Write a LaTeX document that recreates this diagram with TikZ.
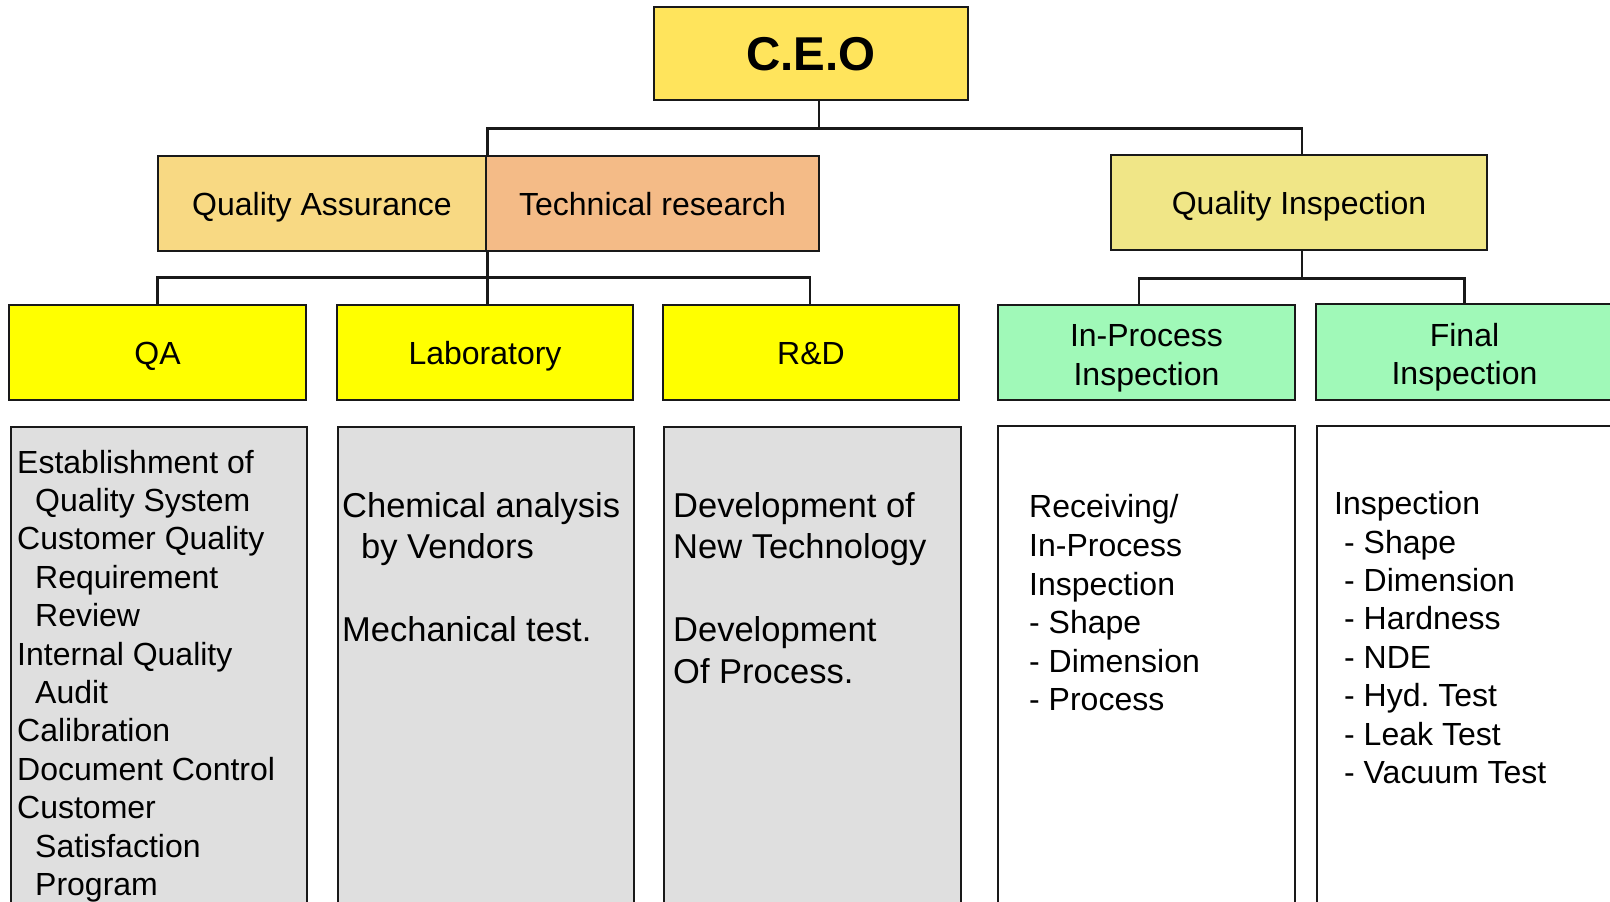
\documentclass[tikz,border=0pt]{standalone}
\usepackage{fontspec}
\setmainfont{Liberation Sans}
\frenchspacing
\definecolor{ceoY}{HTML}{FFE45C}
\definecolor{qaO}{HTML}{F8D983}
\definecolor{trO}{HTML}{F4BB87}
\definecolor{qiY}{HTML}{F0E687}
\definecolor{yel}{HTML}{FFFF00}
\definecolor{grn}{HTML}{A0F9B8}
\definecolor{gry}{HTML}{DFDFDF}
\newcommand\ind{\hspace*{18pt}}
\tikzset{
  box/.style={draw=black!90, line width=2.4pt, inner sep=0pt, minimum height=95pt,
    font=\fontsize{32}{38.4}\selectfont, align=center},
  one/.style={text height=23pt, text depth=0pt},
  conn/.style={draw=black!90, line width=2.6pt},
  txt/.style={anchor=north west, inner sep=0pt, align=left}
}
\begin{document}
\begin{tikzpicture}[x=1pt,y=-1pt]
\clip (0,0) rectangle (1610,902);
\fill[white] (0,0) rectangle (1610,902);
% top
\node[box, fill=ceoY, minimum width=314pt, minimum height=93pt,
  font=\fontsize{47.5}{57}\selectfont\bfseries, text height=34pt, text depth=0pt] (ceo) at (811,53.5) {C.E.O};
% level 2
\node[box, one, fill=qaO, minimum width=328pt] (qa) at (322,203.5) {Quality Assurance};
\node[box, one, fill=trO, minimum width=333pt] (tr) at (652.5,203.5) {Technical research};
\node[box, one, fill=qiY, minimum width=376pt] (qi) at (1299,202.5) {Quality Inspection};
% level 3
\node[box, one, fill=yel, minimum width=297pt] (qab) at (157.5,352.5) {QA};
\node[box, one, fill=yel, minimum width=296pt] (lab) at (485,352.5) {Laboratory};
\node[box, one, fill=yel, minimum width=296pt] (rd) at (811,352.5) {R\&D};
\node[box, fill=grn, minimum width=297pt] (inp) at (1146.5,352.5) {\rule{0pt}{34pt}In-Process\\Inspection};
\node[box, fill=grn, minimum width=297pt, minimum height=96pt] (fin) at (1464.5,352) {\rule{0pt}{34pt}Final\\Inspection};
% detail boxes
\node[box, fill=gry, minimum width=296pt, minimum height=573pt] (d1) at (159,713.5) {};
\node[box, fill=gry, minimum width=296pt, minimum height=573pt] (d2) at (486,713.5) {};
\node[box, fill=gry, minimum width=297pt, minimum height=573pt] (d3) at (812.5,713.5) {};
\node[box, fill=white, minimum width=297pt, minimum height=573pt] (d4) at (1146.5,712.5) {};
\node[box, fill=white, minimum width=297pt, minimum height=573pt] (d5) at (1465.5,712.5) {};
% detail texts
\node[txt, font=\fontsize{32}{38.4}\selectfont] (t1) at (17,446) {\strut Establishment of\\ \ind Quality System\\ Customer Quality\\ \ind Requirement\\ \ind Review\\ Internal Quality\\ \ind Audit\\ Calibration\\ Document Control\\ Customer\\ \ind Satisfaction\\ \ind Program};
\node[txt, font=\fontsize{34.5}{41.4}\selectfont] (t2) at (342,488.4) {\strut Chemical analysis\\ \hspace*{19pt}by Vendors\\ \mbox{}\\ Mechanical test.};
\node[txt, font=\fontsize{34.5}{41.4}\selectfont] (t3) at (673,488.4) {\strut Development of\\ New Technology\\ \mbox{}\\ Development\\ Of Process.};
\node[txt, font=\fontsize{32}{38.6}\selectfont] (t4) at (1029,490.6) {\strut Receiving/\\ In-Process\\ Inspection\\ - Shape\\ - Dimension\\ - Process};
\node[txt, font=\fontsize{32}{38.4}\selectfont] (t5) at (1334,487.6) {\strut Inspection\\ \hspace*{10pt}- Shape\\ \hspace*{10pt}- Dimension\\ \hspace*{10pt}- Hardness\\ \hspace*{10pt}- NDE\\ \hspace*{10pt}- Hyd.\ Test\\ \hspace*{10pt}- Leak Test\\ \hspace*{10pt}- Vacuum Test};
% connectors
\draw[conn] ([xshift=8pt]ceo.south) -- ++(0,27) coordinate (b1);
\draw[conn] (qa.north east) |- (b1) -| ([xshift=3pt]qi.north);
\draw[conn] (qa.south east) -- ++(0,25) coordinate (b2);
\draw[conn] (qab.north) |- (b2) -| ([xshift=-1pt]rd.north);
\draw[conn] (b2) -- (b2 |- lab.north);
\draw[conn] ([xshift=3pt]qi.south) -- ++(0,27) coordinate (b3);
\draw[conn] ([xshift=-7.5pt]inp.north) |- (b3) -| (fin.north);
\end{tikzpicture}
\end{document}
